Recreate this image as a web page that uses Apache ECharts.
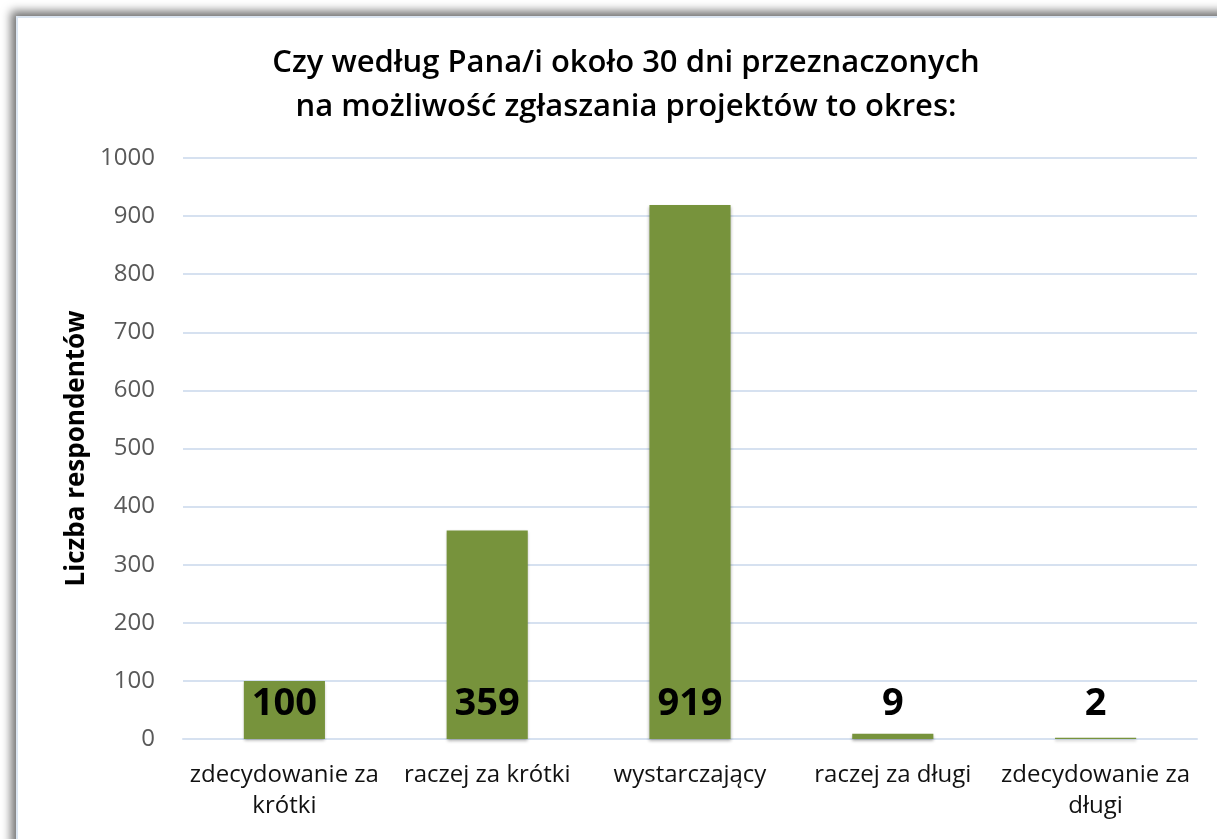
<!DOCTYPE html>
<html>
<head>
<meta charset="utf-8">
<script src="https://cdn.jsdelivr.net/npm/echarts@6/dist/echarts.min.js"></script>
<style>
html,body{margin:0;padding:0;width:1217px;height:839px;overflow:hidden;background:#fff;}
#frame{position:absolute;left:16px;top:16px;width:1400px;height:1000px;background:#fff;
  border-left:2px solid #dbe5f1;border-top:2px solid #dbe5f1;
  box-shadow:-5px -5px 9px rgba(0,0,0,0.55);}
#chart{position:absolute;left:0;top:0;width:1217px;height:839px;}
</style>
</head>
<body>
<div id="frame"></div>
<div id="chart"></div>
<script>
const categories = ['zdecydowanie za\nkrótki', 'raczej za krótki', 'wystarczający', 'raczej za długi', 'zdecydowanie za\ndługi'];
const values = [100, 359, 919, 9, 2];
const titleText = 'Czy według Pana/i około 30 dni przeznaczonych\nna możliwość zgłaszania projektów to okres:';
const yAxisName = 'Liczba respondentów';

const FONT = '"Open Sans", "Noto Sans", sans-serif';
const chart = echarts.init(document.getElementById('chart'), null, {renderer: 'canvas'});
chart.setOption({
  backgroundColor: 'transparent',
  animation: false,
  title: {
    text: titleText,
    left: 621, top: 36, textAlign: 'center',
    textStyle: {fontFamily: FONT, fontSize: 31, fontWeight: 600, color: '#000', lineHeight: 44}
  },
  grid: {left: 183, right: 20, top: 158, bottom: 100},
  xAxis: {
    type: 'category', data: categories,
    axisLine: {show: true, lineStyle: {color: '#d6e1f0', width: 2}},
    axisTick: {show: false},
    axisLabel: {fontFamily: FONT, fontSize: 24, color: '#111', lineHeight: 31, margin: 21, interval: 0}
  },
  yAxis: {
    type: 'value', min: 0, max: 1000, interval: 100,
    name: yAxisName, nameLocation: 'middle', nameGap: 90, nameRotate: 90,
    nameTextStyle: {fontFamily: FONT, fontSize: 26, fontWeight: 'bold', color: '#000'},
    axisLine: {show: false}, axisTick: {show: false},
    axisLabel: {fontFamily: FONT, fontSize: 24, color: '#595959', margin: 28, formatter: v => String(v)},
    splitLine: {lineStyle: {color: '#d6e1f0', width: 2}}
  },
  series: [{
    type: 'bar', data: values, barWidth: '40%',
    itemStyle: {color: '#77933c', shadowBlur: 3, shadowColor: 'rgba(0,0,0,0.3)', shadowOffsetY: 2},
    label: {show: true, position: 'insideBottom', distance: 16, fontFamily: FONT, fontSize: 38, fontWeight: 'bold', color: '#000'}
  }]
});
</script>
</body>
</html>
